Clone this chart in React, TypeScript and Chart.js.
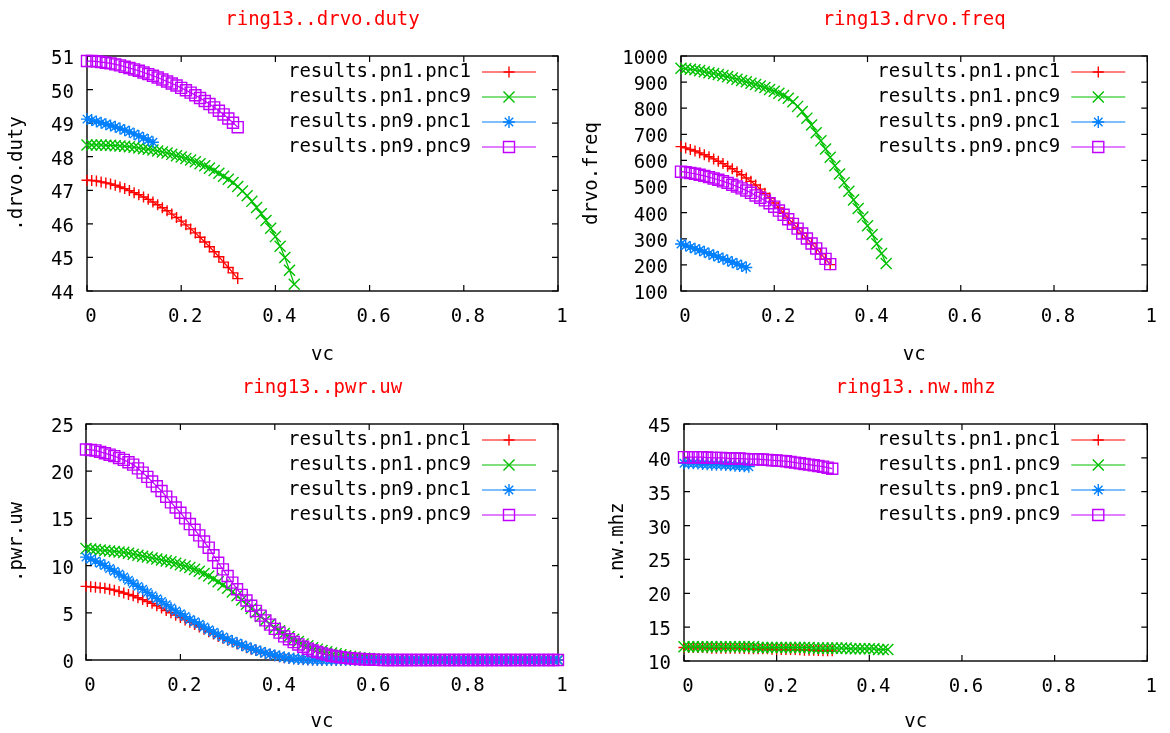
import React, { useEffect, useRef } from 'react';
import { Chart, registerables } from 'chart.js';
import { drawPoint } from 'chart.js/helpers';

Chart.register(...registerables);

const FONT_FAMILY = '"DejaVu Sans Mono", "Liberation Mono", monospace';
const FONT_SIZE = 19;

// ---------- series names / styles ----------
const seriesLabels = ['results.pn1.pnc1', 'results.pn1.pnc9', 'results.pn9.pnc1', 'results.pn9.pnc9'];
const seriesColors = ['#ff0000', '#00c000', '#0080ff', '#c000ff'];
const seriesPointStyles = ['cross', 'crossRot', 'star', 'rect'];
const seriesPointRadii = [5.5, 7.8, 6, 7.8];

// ---------- tick labels ----------
const xTickValues = [0, 0.2, 0.4, 0.6, 0.8, 1];
const xTickLabels = ['0', '0.2', '0.4', '0.6', '0.8', '1'];
const dutyTicks = [44, 45, 46, 47, 48, 49, 50, 51];
const freqTicks = [100, 200, 300, 400, 500, 600, 700, 800, 900, 1000];
const pwrTicks = [0, 5, 10, 15, 20, 25];
const nwTicks = [10, 15, 20, 25, 30, 35, 40, 45];

// ---------- x values (vc) ----------
const vcTo014 = [0, 0.01, 0.02, 0.03, 0.04, 0.05, 0.06, 0.07, 0.08, 0.09, 0.1, 0.11, 0.12, 0.13, 0.14];
const vcTo032 = [0, 0.01, 0.02, 0.03, 0.04, 0.05, 0.06, 0.07, 0.08, 0.09, 0.1, 0.11, 0.12, 0.13, 0.14, 0.15, 0.16,
  0.17, 0.18, 0.19, 0.2, 0.21, 0.22, 0.23, 0.24, 0.25, 0.26, 0.27, 0.28, 0.29, 0.3, 0.31, 0.32];
const vcTo044 = [0, 0.01, 0.02, 0.03, 0.04, 0.05, 0.06, 0.07, 0.08, 0.09, 0.1, 0.11, 0.12, 0.13, 0.14, 0.15, 0.16,
  0.17, 0.18, 0.19, 0.2, 0.21, 0.22, 0.23, 0.24, 0.25, 0.26, 0.27, 0.28, 0.29, 0.3, 0.31, 0.32, 0.33, 0.34, 0.35,
  0.36, 0.37, 0.38, 0.39, 0.4, 0.41, 0.42, 0.43, 0.44];
const vcTo100 = [0, 0.01, 0.02, 0.03, 0.04, 0.05, 0.06, 0.07, 0.08, 0.09, 0.1, 0.11, 0.12, 0.13, 0.14, 0.15, 0.16,
  0.17, 0.18, 0.19, 0.2, 0.21, 0.22, 0.23, 0.24, 0.25, 0.26, 0.27, 0.28, 0.29, 0.3, 0.31, 0.32, 0.33, 0.34, 0.35,
  0.36, 0.37, 0.38, 0.39, 0.4, 0.41, 0.42, 0.43, 0.44, 0.45, 0.46, 0.47, 0.48, 0.49, 0.5, 0.51, 0.52, 0.53, 0.54,
  0.55, 0.56, 0.57, 0.58, 0.59, 0.6, 0.61, 0.62, 0.63, 0.64, 0.65, 0.66, 0.67, 0.68, 0.69, 0.7, 0.71, 0.72, 0.73,
  0.74, 0.75, 0.76, 0.77, 0.78, 0.79, 0.8, 0.81, 0.82, 0.83, 0.84, 0.85, 0.86, 0.87, 0.88, 0.89, 0.9, 0.91, 0.92,
  0.93, 0.94, 0.95, 0.96, 0.97, 0.98, 0.99, 1];

// ---------- ring13..drvo.duty ----------
const dutyPn1Pnc1 = [47.3, 47.29, 47.28, 47.25, 47.22, 47.19, 47.15, 47.1, 47.05, 46.99, 46.93, 46.87, 46.8, 46.73, 46.65,
  46.57, 46.48, 46.39, 46.29, 46.19, 46.08, 45.97, 45.85, 45.73, 45.6, 45.46, 45.32, 45.17, 45.02, 44.86, 44.7, 44.54, 44.37];
const dutyPn1Pnc9 = [48.35, 48.35, 48.35, 48.35, 48.34, 48.34, 48.33, 48.32, 48.31, 48.3, 48.28, 48.26, 48.24, 48.22, 48.2,
  48.17, 48.14, 48.11, 48.07, 48.03, 47.99, 47.95, 47.9, 47.85, 47.79, 47.73, 47.66, 47.59, 47.51, 47.42, 47.33, 47.23,
  47.11, 46.98, 46.84, 46.67, 46.49, 46.3, 46.1, 45.87, 45.62, 45.33, 45.0, 44.62, 44.2];
const dutyPn9Pnc1 = [49.12, 49.09, 49.05, 49.01, 48.97, 48.93, 48.89, 48.84, 48.79, 48.74, 48.68, 48.62, 48.56, 48.5, 48.43];
const dutyPn9Pnc9 = [50.85, 50.85, 50.84, 50.82, 50.8, 50.78, 50.75, 50.72, 50.68, 50.64, 50.6, 50.56, 50.51, 50.46, 50.41,
  50.36, 50.3, 50.24, 50.18, 50.12, 50.05, 49.98, 49.91, 49.83, 49.75, 49.66, 49.57, 49.47, 49.37, 49.26, 49.14, 49.01, 48.88];

// ---------- ring13.drvo.freq ----------
const freqPn1Pnc1 = [653, 648, 642, 636, 629, 622, 614, 606, 597, 588, 578, 568, 557, 545, 533, 520, 506, 490, 474, 456, 437,
  418, 398, 379, 360, 341, 321, 302, 282, 262, 242, 222, 201];
const freqPn1Pnc9 = [953, 951, 949, 947, 944, 940, 936, 933, 929, 925, 921, 916, 911, 906, 901, 896, 891, 885, 879, 872, 865,
  857, 849, 838, 825, 807, 787, 762, 736, 706, 675, 644, 612, 580, 548, 515, 482, 449, 416, 383, 350, 316, 281, 244, 205];
const freqPn9Pnc1 = [280, 274, 268, 262, 256, 250, 243, 237, 230, 224, 217, 210, 203, 197, 190];
const freqPn9Pnc9 = [557, 555, 552, 549, 545, 541, 536, 531, 526, 520, 514, 507, 500, 493, 485, 476, 466, 457, 447, 436, 423,
  408, 392, 375, 357, 339, 320, 301, 282, 263, 243, 223, 203];

// ---------- ring13..pwr.uw ----------
const pwrPn1Pnc1 = [7.8, 7.75, 7.7, 7.65, 7.6, 7.5, 7.4, 7.25, 7.1, 6.95, 6.8, 6.6, 6.4, 6.2, 6.0, 5.75, 5.5, 5.25, 5.0, 4.75,
  4.5, 4.25, 4.0, 3.75, 3.5, 3.25, 3.0, 2.75, 2.5, 2.3, 2.1, 1.9, 1.7, 1.5, 1.3, 1.15, 1.0, 0.85, 0.7, 0.57, 0.45, 0.35,
  0.25, 0.18, 0.12, 0.08, 0.05, 0.02,
  0, 0, 0, 0, 0, 0, 0, 0, 0, 0, 0, 0, 0, 0, 0, 0, 0, 0, 0, 0, 0, 0, 0, 0, 0, 0, 0, 0, 0, 0, 0, 0, 0, 0, 0, 0, 0, 0, 0, 0,
  0, 0, 0, 0, 0, 0, 0, 0, 0, 0, 0, 0, 0];
const pwrPn1Pnc9 = [11.8, 11.75, 11.7, 11.65, 11.6, 11.55, 11.5, 11.45, 11.4, 11.3, 11.2, 11.1, 11.0, 10.9, 10.8, 10.7, 10.6,
  10.5, 10.4, 10.25, 10.1, 9.95, 9.8, 9.6, 9.4, 9.15, 8.9, 8.6, 8.3, 7.95, 7.6, 7.2, 6.8, 6.35, 5.9, 5.45, 5.0, 4.6, 4.2,
  3.8, 3.4, 3.1, 2.8, 2.5, 2.2, 1.95, 1.7, 1.5, 1.3, 1.15, 1.0, 0.87, 0.75, 0.65, 0.55, 0.46, 0.38, 0.31, 0.25, 0.2, 0.15,
  0.11, 0.08, 0.06, 0.04, 0.02,
  0, 0, 0, 0, 0, 0, 0, 0, 0, 0, 0, 0, 0, 0, 0, 0, 0, 0, 0, 0, 0, 0, 0, 0, 0, 0, 0, 0, 0, 0, 0, 0, 0, 0, 0];
const pwrPn9Pnc1 = [10.9, 10.7, 10.5, 10.25, 10.0, 9.7, 9.4, 9.1, 8.8, 8.45, 8.1, 7.8, 7.5, 7.15, 6.8, 6.5, 6.2, 5.85, 5.5,
  5.2, 4.9, 4.6, 4.3, 4.05, 3.8, 3.5, 3.2, 2.95, 2.7, 2.45, 2.2, 2.0, 1.8, 1.6, 1.4, 1.22, 1.05, 0.9, 0.75, 0.62, 0.5, 0.4,
  0.3, 0.22, 0.15, 0.1, 0.07, 0.04, 0.02, 0.01,
  0, 0, 0, 0, 0, 0, 0, 0, 0, 0, 0, 0, 0, 0, 0, 0, 0, 0, 0, 0, 0, 0, 0, 0, 0, 0, 0, 0, 0, 0, 0, 0, 0, 0, 0, 0, 0, 0, 0, 0,
  0, 0, 0, 0, 0, 0, 0, 0, 0, 0, 0];
const pwrPn9Pnc9 = [22.3, 22.25, 22.2, 22.05, 21.9, 21.75, 21.6, 21.4, 21.2, 20.95, 20.7, 20.3, 19.85, 19.4, 18.9, 18.4, 17.9,
  17.3, 16.7, 16.15, 15.6, 15.0, 14.4, 13.8, 13.2, 12.55, 11.9, 11.1, 10.3, 9.6, 8.9, 8.2, 7.5, 6.9, 6.3, 5.75, 5.2, 4.7,
  4.2, 3.75, 3.3, 2.9, 2.5, 2.2, 1.9, 1.65, 1.4, 1.2, 1.0, 0.85, 0.7, 0.57, 0.45, 0.37, 0.3, 0.24, 0.18, 0.14, 0.1, 0.07,
  0.05, 0.03, 0.01,
  0, 0, 0, 0, 0, 0, 0, 0, 0, 0, 0, 0, 0, 0, 0, 0, 0, 0, 0, 0, 0, 0, 0, 0, 0, 0, 0, 0, 0, 0, 0, 0, 0, 0, 0, 0, 0, 0];

// ---------- ring13..nw.mhz ----------
const nwPn1Pnc1 = [12.0, 12.0, 12.0, 12.0, 12.0, 11.95, 11.9, 11.9, 11.9, 11.9, 11.9, 11.9, 11.9, 11.85, 11.8, 11.8, 11.8,
  11.8, 11.8, 11.75, 11.7, 11.7, 11.7, 11.7, 11.7, 11.65, 11.6, 11.6, 11.6, 11.55, 11.5, 11.5, 11.5];
const nwPn1Pnc9 = [12.1, 12.1, 12.1, 12.1, 12.1, 12.1, 12.1, 12.1, 12.1, 12.1, 12.1, 12.1, 12.1, 12.1, 12.1, 12.1,
  12.0, 12.0, 12.0, 12.0, 12.0, 12.0, 12.0, 12.0, 12.0, 12.0, 12.0, 12.0, 11.9, 11.9, 11.9, 11.9, 11.9, 11.9, 11.9, 11.9,
  11.8, 11.8, 11.8, 11.8, 11.8, 11.8, 11.7, 11.7, 11.7];
const nwPn9Pnc1 = [39.2, 39.2, 39.2, 39.15, 39.1, 39.05, 39.0, 39.0, 39.0, 38.95, 38.9, 38.85, 38.8, 38.75, 38.7];
const nwPn9Pnc9 = [40.1, 40.1, 40.1, 40.1, 40.1, 40.05, 40.0, 40.0, 40.0, 39.95, 39.9, 39.9, 39.9, 39.85, 39.8, 39.8, 39.8,
  39.75, 39.7, 39.65, 39.6, 39.55, 39.5, 39.4, 39.3, 39.2, 39.1, 39.0, 38.9, 38.8, 38.7, 38.55, 38.4];

type PanelDef = {
  title: string;
  yTitle: string;
  yTicks: number[];
  xs: number[][];
  ys: number[][];
  box: { left: number; top: number; width: number; height: number };
  area: { left: number; right: number; top: number; bottom: number };
  yTitleX: number;
  xTitleY: number;
  yTickPad: number;
};

const panelDefs: PanelDef[] = [
  {
    title: 'ring13..drvo.duty', yTitle: '.drvo.duty', yTicks: dutyTicks,
    xs: [vcTo032, vcTo044, vcTo014, vcTo032], ys: [dutyPn1Pnc1, dutyPn1Pnc9, dutyPn9Pnc1, dutyPn9Pnc9],
    box: { left: 0, top: 0, width: 585, height: 366 },
    area: { left: 87, right: 558, top: 56, bottom: 291 },
    yTitleX: 16.7, xTitleY: 355, yTickPad: 13,
  },
  {
    title: 'ring13.drvo.freq', yTitle: 'drvo.freq', yTicks: freqTicks,
    xs: [vcTo032, vcTo044, vcTo014, vcTo032], ys: [freqPn1Pnc1, freqPn1Pnc9, freqPn9Pnc1, freqPn9Pnc9],
    box: { left: 580, top: 0, width: 590, height: 366 },
    area: { left: 101, right: 574, top: 56, bottom: 291 },
    yTitleX: 12, xTitleY: 355, yTickPad: 13,
  },
  {
    title: 'ring13..pwr.uw', yTitle: '.pwr.uw', yTicks: pwrTicks,
    xs: [vcTo100, vcTo100, vcTo100, vcTo100], ys: [pwrPn1Pnc1, pwrPn1Pnc9, pwrPn9Pnc1, pwrPn9Pnc9],
    box: { left: 0, top: 366, width: 585, height: 367 },
    area: { left: 86, right: 558, top: 58, bottom: 294 },
    yTitleX: 16.7, xTitleY: 355.7, yTickPad: 12,
  },
  {
    title: 'ring13..nw.mhz', yTitle: '.nw.mhz', yTicks: nwTicks,
    xs: [vcTo032, vcTo044, vcTo014, vcTo032], ys: [nwPn1Pnc1, nwPn1Pnc9, nwPn9Pnc1, nwPn9Pnc9],
    box: { left: 580, top: 366, width: 590, height: 367 },
    area: { left: 104, right: 575, top: 58, bottom: 295 },
    yTitleX: 37.6, xTitleY: 355.7, yTickPad: 13,
  },
];

const TICK_LEN = 6;

function makeDecorPlugin(def: PanelDef) {
  return {
    id: 'gnuplotDecor',
    beforeDatasetsDraw(chart: any) {
      const { ctx, chartArea: a, scales } = chart;
      ctx.save();
      ctx.strokeStyle = '#000';
      ctx.lineWidth = 1.4;
      ctx.strokeRect(a.left, a.top, a.right - a.left, a.bottom - a.top);
      ctx.lineWidth = 1.2;
      ctx.beginPath();
      for (const t of scales.x.ticks) {
        const px = scales.x.getPixelForValue(t.value);
        ctx.moveTo(px, a.bottom);
        ctx.lineTo(px, a.bottom - TICK_LEN);
        ctx.moveTo(px, a.top);
        ctx.lineTo(px, a.top + TICK_LEN);
      }
      for (const t of scales.y.ticks) {
        const py = scales.y.getPixelForValue(t.value);
        ctx.moveTo(a.left, py);
        ctx.lineTo(a.left + TICK_LEN, py);
        ctx.moveTo(a.right, py);
        ctx.lineTo(a.right - TICK_LEN, py);
      }
      ctx.stroke();
      ctx.restore();
    },
    afterDraw(chart: any) {
      const { ctx, chartArea: a } = chart;
      ctx.save();
      ctx.font = `${FONT_SIZE}px ${FONT_FAMILY}`;
      ctx.textBaseline = 'middle';
      ctx.fillStyle = '#ff0000';
      ctx.textAlign = 'center';
      ctx.fillText(def.title, (a.left + a.right) / 2, a.top - 36);
      chart.data.datasets.forEach((ds: any, i: number) => {
        const y = a.top + 16 + i * 25;
        ctx.fillStyle = '#000';
        ctx.textAlign = 'right';
        ctx.fillText(ds.label, a.right - 87, y);
        ctx.strokeStyle = ds.borderColor;
        ctx.lineWidth = 1.2;
        ctx.beginPath();
        ctx.moveTo(a.right - 76, y);
        ctx.lineTo(a.right - 22, y);
        ctx.stroke();
        ctx.fillStyle = 'rgba(0,0,0,0)';
        ctx.lineWidth = 1.4;
        drawPoint(ctx, { pointStyle: ds.pointStyle, radius: ds.pointRadius, rotation: 0, borderWidth: 1.4 } as any, a.right - 49, y);
      });
      ctx.restore();
    },
  };
}

function Panel({ def }: { def: PanelDef }) {
  const ref = useRef<HTMLCanvasElement>(null);
  useEffect(() => {
    if (!ref.current) return;
    const { box, area } = def;
    const tickFont = { family: FONT_FAMILY, size: FONT_SIZE, lineHeight: 1 };
    const datasets = seriesLabels.map((label, i) => ({
      label,
      data: def.xs[i].map((x, j) => ({ x, y: def.ys[i][j] })),
      borderColor: seriesColors[i],
      backgroundColor: seriesColors[i],
      borderWidth: 1.2,
      pointStyle: seriesPointStyles[i],
      pointRadius: seriesPointRadii[i],
      pointHoverRadius: seriesPointRadii[i],
      pointBorderWidth: 1.4,
      pointBorderColor: seriesColors[i],
      pointBackgroundColor: 'rgba(0,0,0,0)',
      tension: 0,
      fill: false,
      clip: false as any,
      order: 4 - i,
    }));
    const chart = new Chart(ref.current, {
      type: 'line',
      data: { datasets },
      options: {
        animation: false,
        responsive: false,
        devicePixelRatio: 1,
        events: [],
        layout: { padding: { left: 0, top: area.top, right: box.width - area.right, bottom: 0 } },
        plugins: { legend: { display: false }, tooltip: { enabled: false }, title: { display: false } },
        scales: {
          x: {
            type: 'linear',
            min: 0,
            max: 1,
            grid: { display: false, drawTicks: false },
            border: { display: false },
            afterBuildTicks: (scale: any) => { scale.ticks = xTickValues.map((v) => ({ value: v })); },
            afterFit: (scale: any) => { scale.height = box.height - area.bottom; },
            ticks: {
              autoSkip: false,
              maxRotation: 0,
              padding: 17,
              labelOffset: 4,
              color: '#000',
              font: tickFont,
              callback: (_v: any, idx: number) => xTickLabels[idx],
            },
            title: {
              display: true,
              text: 'vc',
              color: '#000',
              font: tickFont,
              padding: { top: 0, bottom: box.height - def.xTitleY - FONT_SIZE / 2 },
            },
          },
          y: {
            type: 'linear',
            min: def.yTicks[0],
            max: def.yTicks[def.yTicks.length - 1],
            grid: { display: false, drawTicks: false },
            border: { display: false },
            afterBuildTicks: (scale: any) => { scale.ticks = def.yTicks.map((v) => ({ value: v })); },
            afterFit: (scale: any) => { scale.width = area.left; },
            ticks: {
              autoSkip: false,
              padding: def.yTickPad,
              labelOffset: 3,
              color: '#000',
              font: tickFont,
              callback: (v: any) => String(v),
            },
            title: {
              display: true,
              text: def.yTitle,
              color: '#000',
              font: tickFont,
              padding: { top: def.yTitleX - FONT_SIZE / 2, bottom: 0 },
            },
          },
        },
      } as any,
      plugins: [makeDecorPlugin(def)],
    });
    return () => chart.destroy();
  }, [def]);
  return (
    <canvas
      ref={ref}
      width={def.box.width}
      height={def.box.height}
      style={{ position: 'absolute', left: def.box.left, top: def.box.top, width: def.box.width, height: def.box.height }}
    />
  );
}

export default function App() {
  return (
    <div style={{ position: 'absolute', left: 0, top: 0, width: 1170, height: 733, background: '#fff', overflow: 'hidden' }}>
      {panelDefs.map((def) => (
        <Panel key={def.title} def={def} />
      ))}
    </div>
  );
}
